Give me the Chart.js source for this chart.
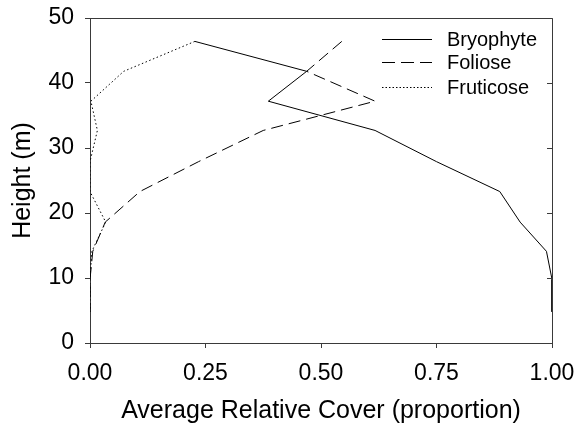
<!DOCTYPE html>
<html>
<head>
<meta charset="utf-8">
<script src="https://cdn.jsdelivr.net/npm/chart.js@4/dist/chart.umd.min.js"></script>
<style>
  html, body { margin: 0; padding: 0; background: #ffffff; }
  #wrap { width: 577px; height: 427px; position: relative; }
</style>
</head>
<body>
<div id="wrap"><canvas id="c" width="577" height="427"></canvas></div>
<script>
// Sampling heights (m), top to bottom
const heights = [46.4, 41.8, 37.2, 32.7, 27.9, 23.3, 18.6, 14.1, 9.8, 4.8];
// Average relative cover (proportion) at each height
const bryophyte = [0.227, 0.469, 0.386, 0.617, 0.75, 0.887, 0.931, 0.988, 1.0, 1.0];
const foliose   = [0.545, 0.469, 0.617, 0.375, 0.235, 0.108, 0.033, 0.006, 0.0, 0.0];
const fruticose = [0.227, 0.073, 0.002, 0.016, 0.0, 0.0, 0.034, 0.004, 0.0, 0.0];
const seriesNames = ['Bryophyte', 'Foliose', 'Fruticose'];
const xTicks = [0, 0.25, 0.5, 0.75, 1.0];
const yTicks = [0, 10, 20, 30, 40, 50];

const FONT = "'Liberation Sans', Arial, Helvetica, sans-serif";
const AXIS_COLOR = '#3a3a3a';

function pts(vals) { return vals.map((v, i) => ({ x: v, y: heights[i] })); }

const legendPlugin = {
  id: 'insideLegend',
  afterDatasetsDraw(chart) {
    const ctx = chart.ctx;
    const rows = [39, 62, 87];
    ctx.save();
    chart.data.datasets.forEach((ds, i) => {
      const y = rows[i];
      ctx.beginPath();
      ctx.strokeStyle = ds.borderColor;
      ctx.lineWidth = ds.borderWidth;
      ctx.setLineDash(ds.legendDash || []);
      ctx.moveTo(382, y + 0.5);
      ctx.lineTo(432, y + 0.5);
      ctx.stroke();
      ctx.setLineDash([]);
      ctx.fillStyle = '#000';
      ctx.font = '20px ' + FONT;
      ctx.textAlign = 'left';
      ctx.textBaseline = 'middle';
      ctx.fillText(ds.label, 447, y + 1);
    });
    ctx.restore();
  }
};

const framePlugin = {
  id: 'frame',
  afterDraw(chart) {
    const ctx = chart.ctx;
    const a = chart.chartArea;
    const ys = chart.scales.y;
    ctx.save();
    ctx.strokeStyle = AXIS_COLOR;
    ctx.lineWidth = 1;
    ctx.beginPath();
    ctx.moveTo(a.left, a.top + 0.5);
    ctx.lineTo(a.right + 0.5, a.top + 0.5);
    ctx.lineTo(a.right + 0.5, a.bottom);
    ctx.stroke();
    // inward ticks on the right side
    ys.ticks.forEach(t => {
      const py = Math.round(ys.getPixelForValue(t.value)) + 0.5;
      ctx.beginPath();
      ctx.moveTo(a.right - 5, py);
      ctx.lineTo(a.right + 0.5, py);
      ctx.stroke();
    });
    ctx.restore();
  }
};

new Chart(document.getElementById('c'), {
  type: 'scatter',
  data: {
    datasets: [
      { label: seriesNames[0], data: pts(bryophyte), showLine: true, borderColor: '#000', borderWidth: 1,
        pointRadius: 0, borderDash: [], legendDash: [] },
      { label: seriesNames[1], data: pts(foliose), showLine: true, borderColor: '#000', borderWidth: 1,
        pointRadius: 0, borderDash: [12, 6], legendDash: [13, 6] },
      { label: seriesNames[2], data: pts(fruticose), showLine: true, borderColor: '#000', borderWidth: 1,
        pointRadius: 0, borderDash: [1.5, 2.5], legendDash: [1.5, 2] }
    ]
  },
  options: {
    responsive: false,
    animation: false,
    layout: { padding: { left: 0, right: 25, top: 18, bottom: 0 } },
    plugins: { legend: { display: false }, tooltip: { enabled: false } },
    scales: {
      x: {
        type: 'linear', min: 0, max: 1,
        afterBuildTicks(s) { s.ticks = xTicks.map(v => ({ value: v })); },
        afterFit(s) { s.height = 84; s.paddingLeft = 0; s.paddingRight = 0; },
        ticks: { color: '#000', font: { family: FONT, size: 23 }, padding: 12,
                 callback: v => Number(v).toFixed(2) },
        grid: { display: true, drawOnChartArea: false, drawTicks: true, tickLength: 5, color: AXIS_COLOR },
        border: { display: true, color: AXIS_COLOR, width: 1 },
        title: { display: true, text: 'Average Relative Cover (proportion)', color: '#000',
                 font: { family: FONT, size: 25 }, padding: { top: 0, bottom: 1 } }
      },
      y: {
        type: 'linear', min: 0, max: 50,
        afterBuildTicks(s) { s.ticks = yTicks.map(v => ({ value: v })); },
        afterFit(s) { s.width = 90; s.paddingTop = 0; s.paddingBottom = 0; },
        ticks: { color: '#000', font: { family: FONT, size: 23 }, padding: 11,
                 callback: v => String(v) },
        grid: { display: true, drawOnChartArea: false, drawTicks: true, tickLength: 5, color: AXIS_COLOR },
        border: { display: true, color: AXIS_COLOR, width: 1 },
        title: { display: true, text: 'Height (m)', color: '#000',
                 font: { family: FONT, size: 25 }, padding: { top: 8, bottom: 0 } }
      }
    }
  },
  plugins: [legendPlugin, framePlugin]
});
</script>
</body>
</html>
